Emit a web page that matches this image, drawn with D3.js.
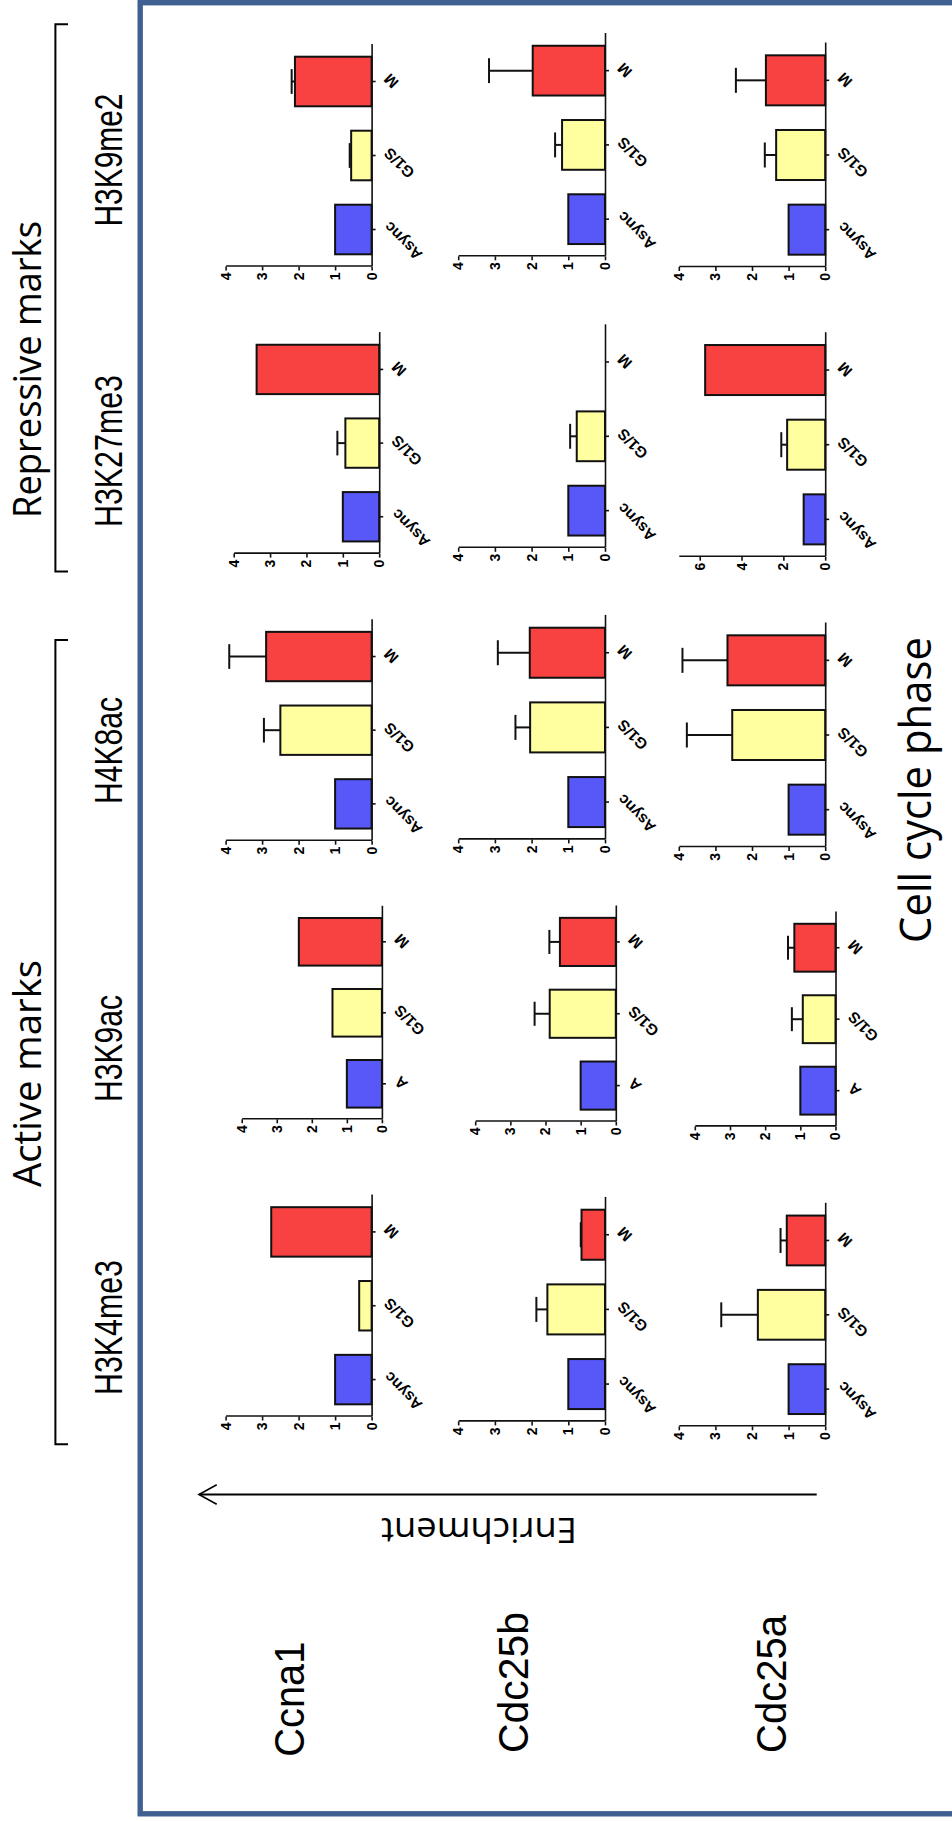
<!DOCTYPE html>
<html><head><meta charset="utf-8">
<script src="https://cdn.jsdelivr.net/npm/d3@7"></script>
<style>html,body{margin:0;padding:0;background:#fff;} svg{display:block;}</style>
</head><body>
<svg id="chart" width="952" height="1821"></svg>
<script>
// ---------------- DATA ----------------
const genes = ["Ccna1", "Cdc25b", "Cdc25a"];
const marks = ["H3K4me3", "H3K9ac", "H4K8ac", "H3K27me3", "H3K9me2"];
const phases = ["Async", "G1/S", "M"];
const phaseLabels = ["Async", "G1/S", "M"];
const phaseLabelsShort = ["A", "G1/S", "M"];      // used on the H3K9ac panels
const groupLabels = ["Active marks", "Repressive marks"];
const yTitle = "Enrichment";
const xTitle = "Cell cycle phase";

// mean enrichment: one row per mark (order of `marks`), values per phase (Async, G1/S, M)
const ccna1Mean  = [[1.00, 0.34, 2.75], [1.00, 1.41, 2.37], [1.00, 2.50, 2.89], [1.00, 0.93, 3.37], [1.00, 0.56, 2.10]];
const ccna1Err   = [[0, 0, 0],          [0, 0, 0],          [0, 0.45, 1.01],    [0, 0.22, 0],       [0, 0.04, 0.09]];
const cdc25bMean = [[1.00, 1.57, 0.64], [1.00, 1.88, 1.59], [1.00, 2.04, 2.05], [1.00, 0.77, 0.00], [1.00, 1.17, 1.97]];
const cdc25bErr  = [[0, 0.30, 0.02],    [0, 0.43, 0.30],    [0, 0.40, 0.87],    [0, 0.18, 0],       [0, 0.19, 1.19]];
const cdc25aMean = [[1.00, 1.84, 1.05], [1.00, 0.93, 1.17], [1.00, 2.54, 2.67], [1.03, 1.82, 5.74], [1.00, 1.34, 1.62]];
const cdc25aErr  = [[0, 1.00, 0.17],    [0, 0.31, 0.18],    [0, 1.24, 1.23],    [0, 0.28, 0],       [0, 0.31, 0.82]];

// value-axis maximum and tick step per panel [gene][mark]
const yMax  = [[4, 4, 4, 4, 4], [4, 4, 4, 4, 4], [4, 4, 4, 7, 4]];
const yStep = [[1, 1, 1, 1, 1], [1, 1, 1, 1, 1], [1, 1, 1, 2, 1]];

// ---------------- LAYOUT (landscape figure, rotated onto the page) ----------------
const LW = 1821;  // landscape width  (= page height)
// panel boxes [axisX, baselineY, categoryWidth, valueHeight] in landscape coords
const panelBox = [
  [[404.5, 371.6, 221.5, 146], [701.7, 381.9, 213, 140.2], [980.3, 371.6, 221, 146], [1267.4, 379.2, 221, 145.5], [1554.5, 371.6, 222, 146]],
  [[399.6, 605, 224, 146.8],  [699.5, 615.8, 215.5, 140.6], [981.6, 605, 224, 146.8], [1273.2, 605, 223, 146.8], [1564.7, 605, 222.8, 146.8]],
  [[394.7, 825.2, 223, 146.4], [694.6, 835.5, 214.4, 140.7], [974, 825.2, 224, 146.4], [1264.3, 825.2, 224, 146.4], [1554, 825.2, 224, 146.4]]
];
const markLabelPos = [[493.5, 135], [772.5, 107], [1070.5, 107], [1370, 152], [1661, 133]]; // centerX, length
const geneLabelPos = [[64.3, 304, 115], [68, 527.5, 141], [68, 786, 138]];             // startX, baseline, length
const barColors = ["#5858f8", "#ffffa0", "#f84242"];
const frameColor = "#3f6090";

const means = [ccna1Mean, cdc25bMean, cdc25aMean];
const errs = [ccna1Err, cdc25bErr, cdc25aErr];

const svg = d3.select("#chart");
const g = svg.append("g").attr("transform", `translate(0,${LW}) rotate(-90)`);

// frame
g.append("rect").attr("x", 7.2).attr("y", 140.2).attr("width", 1811.1).attr("height", 1000)
  .attr("fill", "none").attr("stroke", frameColor).attr("stroke-width", 5.4);

const bigFont = "'Liberation Sans', Arial, sans-serif";
const softFont = "'Open Sans', 'Noto Sans', sans-serif";

function label(text, x, y, size, len, family) {
  return g.append("text").attr("x", x).attr("y", y).attr("font-size", size)
    .attr("font-family", family).attr("fill", "#000")
    .attr("textLength", len).attr("lengthAdjust", "spacingAndGlyphs").text(text);
}

// group labels + brackets
label(groupLabels[1], 1303, 41, 38, 297, softFont);
label(groupLabels[0], 634, 40.5, 38, 227, softFont);
const brackets = [[376.7, 1181], [1249.6, 1796.7]];
brackets.forEach(([a, b]) => {
  g.append("path").attr("d", `M${a},68 V55.4 H${b} V68`).attr("fill", "none")
    .attr("stroke", "#000").attr("stroke-width", 2);
});

// mark headers
marks.forEach((m, i) => {
  const [cx, len] = markLabelPos[i];
  label(m, cx - len / 2, 122, 39, len, bigFont);
});

// gene labels
genes.forEach((gn, i) => {
  const [sx, by, len] = geneLabelPos[i];
  label(gn, sx, by, 43, len, bigFont);
});

// Enrichment arrow + title
g.append("line").attr("x1", 326.5).attr("y1", 816.7).attr("x2", 326.5).attr("y2", 199.5)
  .attr("stroke", "#000").attr("stroke-width", 2);
g.append("path").attr("d", "M316.8,216.7 L326.5,199 L336.2,216.7").attr("fill", "none")
  .attr("stroke", "#000").attr("stroke-width", 1.6);
g.append("text").attr("transform", "translate(303,577) rotate(-90)").attr("font-size", 34)
  .attr("font-family", softFont).attr("textLength", 196).attr("lengthAdjust", "spacingAndGlyphs")
  .text(yTitle);

label(xTitle, 878, 931, 43, 306, softFont);

// panels
genes.forEach((gn, gi) => {
  marks.forEach((mk, mi) => {
    const [x0, y0, w, h] = panelBox[gi][mi];
    const x = d3.scaleBand().domain(phases).range([x0, x0 + w]).paddingInner(0.33).paddingOuter(0.165);
    const y = d3.scaleLinear().domain([0, yMax[gi][mi]]).range([y0, y0 - h]);
    const rows = phases.map((p, i) => ({ p, v: means[gi][mi][i], e: errs[gi][mi][i], c: barColors[i] }));
    const pg = g.append("g");

    // error bars (upper only)
    const eb = rows.filter(d => d.e > 0);
    const capW = x.bandwidth() * 0.5;
    pg.selectAll("line.err").data(eb).join("line").attr("class", "err")
      .attr("x1", d => x(d.p) + x.bandwidth() / 2).attr("x2", d => x(d.p) + x.bandwidth() / 2)
      .attr("y1", d => y(d.v)).attr("y2", d => y(d.v + d.e))
      .attr("stroke", "#111").attr("stroke-width", 2);
    pg.selectAll("line.cap").data(eb).join("line").attr("class", "cap")
      .attr("x1", d => x(d.p) + x.bandwidth() / 2 - capW / 2).attr("x2", d => x(d.p) + x.bandwidth() / 2 + capW / 2)
      .attr("y1", d => y(d.v + d.e)).attr("y2", d => y(d.v + d.e))
      .attr("stroke", "#111").attr("stroke-width", 2);

    // bars
    pg.selectAll("rect.bar").data(rows.filter(d => d.v > 0)).join("rect").attr("class", "bar")
      .attr("x", d => x(d.p)).attr("width", x.bandwidth())
      .attr("y", d => y(d.v)).attr("height", d => y(0) - y(d.v))
      .attr("fill", d => d.c).attr("stroke", "#111").attr("stroke-width", 2);

    // value axis
    const ticks = d3.range(0, yMax[gi][mi] + 1e-9, yStep[gi][mi]);
    const ya = pg.append("g").attr("transform", `translate(${x0},0)`)
      .call(d3.axisLeft(y).tickValues(ticks).tickSize(4).tickSizeOuter(0).tickPadding(2).tickFormat(d3.format("d")));
    ya.attr("font-size", 14).attr("font-family", bigFont).attr("font-weight", "bold");
    ya.selectAll("path,line").attr("stroke", "#111").attr("stroke-width", 1.6);

    // category axis
    const labs = mk === "H3K9ac" ? phaseLabelsShort : phaseLabels;
    const xa = pg.append("g").attr("transform", `translate(0,${y0})`)
      .call(d3.axisBottom(x).tickSize(4).tickSizeOuter(0).tickFormat((d, i) => labs[i]));
    xa.attr("font-size", 15.5).attr("font-family", bigFont).attr("font-weight", "bold");
    xa.selectAll("path,line").attr("stroke", "#111").attr("stroke-width", 1.6);
    xa.selectAll("text").attr("x", 0).attr("y", 0).attr("dy", "0.35em")
      .attr("transform", "translate(5,15) rotate(-45)").attr("text-anchor", "end");
  });
});
</script>
</body></html>
